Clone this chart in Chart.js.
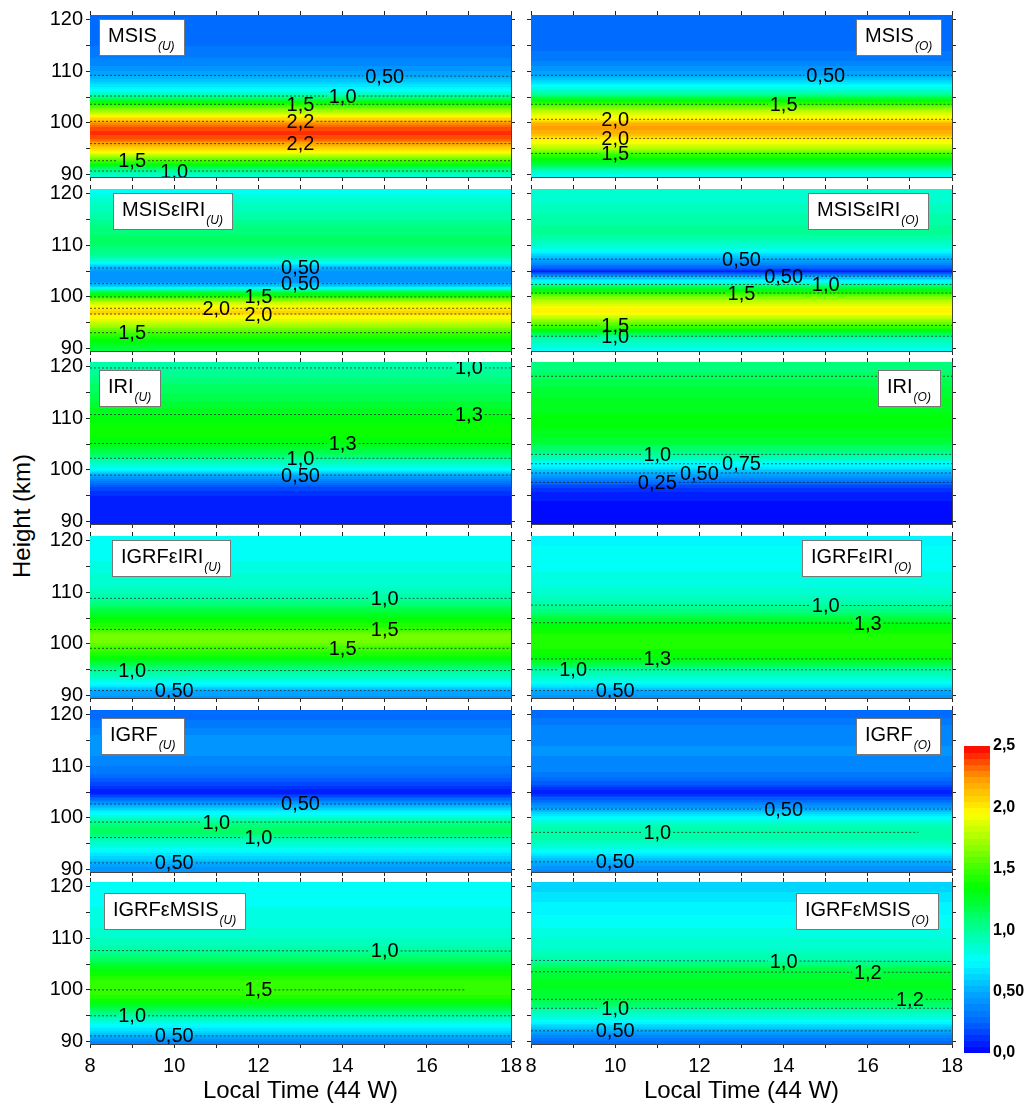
<!DOCTYPE html>
<html>
<head>
<meta charset="utf-8">
<title>Contour panels</title>
<script src="https://cdn.jsdelivr.net/npm/chart.js@4.4.1/dist/chart.umd.min.js"></script>
<style>
  html, body { margin: 0; padding: 0; background: #fff; }
  body { position: relative; width: 1028px; height: 1108px; overflow: hidden; font-family: "Liberation Sans", Arial, sans-serif; }
  .pane { position: absolute; }
  .pane canvas { display: block; }
  #ytitle { position: absolute; left: 22px; top: 516px; transform: translate(-50%, -50%) rotate(-90deg); font-size: 24px; white-space: nowrap; color: #000; }
</style>
</head>
<body>
<div id="ytitle">Height (km)</div>
<script>
// heights (km) at which the profiles are sampled
const heights = [89, 90, 91, 92, 93, 94, 95, 96, 97, 98, 99, 100, 101, 102, 103, 104, 105,
                 106, 107, 108, 109, 110, 111, 112, 113, 114, 115, 116, 117, 118, 119, 120, 121];

// values per panel, one per height
const profMsisU = [0.8, 0.9, 1.05, 1.32, 1.6, 1.85, 2.05, 2.2, 2.35, 2.42, 2.38, 2.25, 2.05, 1.8, 1.6, 1.35, 1.05,
                   0.85, 0.7, 0.6, 0.52, 0.45, 0.4, 0.37, 0.34, 0.32, 0.3, 0.28, 0.27, 0.28, 0.29, 0.3, 0.3];
const profMsisO = [0.72, 0.8, 0.95, 1.18, 1.35, 1.5, 1.72, 1.9, 2.0, 2.15, 2.22, 2.18, 1.95, 1.85, 1.65, 1.4, 1.15,
                   0.95, 0.8, 0.65, 0.52, 0.45, 0.4, 0.35, 0.32, 0.3, 0.3, 0.3, 0.3, 0.3, 0.3, 0.3, 0.3];
const profMsisIriU = [1.15, 1.2, 1.28, 1.38, 1.5, 1.65, 1.8, 1.92, 2.08, 1.98, 1.8, 1.5, 1.2, 0.65, 0.45, 0.4, 0.42,
                      0.6, 0.85, 1.0, 1.05, 1.1, 1.1, 1.1, 1.08, 1.05, 1.0, 0.97, 0.93, 0.9, 0.86, 0.8, 0.78];
const profMsisIriO = [0.75, 0.8, 0.88, 0.95, 1.2, 1.42, 1.6, 1.8, 1.95, 1.95, 1.82, 1.65, 1.42, 1.15, 0.8, 0.5, 0.08,
                      0.3, 0.45, 0.6, 0.75, 0.88, 0.95, 1.0, 1.0, 1.0, 0.98, 0.95, 0.92, 0.9, 0.87, 0.85, 0.85];
const profIriU = [0.05, 0.05, 0.05, 0.05, 0.06, 0.07, 0.1, 0.15, 0.22, 0.35, 0.5, 0.72, 0.88, 0.97, 1.1, 1.22, 1.29,
                  1.34, 1.37, 1.38, 1.36, 1.32, 1.29, 1.25, 1.21, 1.18, 1.15, 1.12, 1.09, 1.05, 1.02, 0.99, 0.97];
const profIriO = [0.03, 0.03, 0.03, 0.03, 0.04, 0.05, 0.07, 0.11, 0.18, 0.33, 0.46, 0.6, 0.73, 0.87, 1.0, 1.1, 1.18,
                  1.24, 1.28, 1.3, 1.31, 1.31, 1.3, 1.29, 1.27, 1.25, 1.22, 1.2, 1.17, 1.14, 1.1, 1.07, 1.05];
const profIgrfIriU = [0.4, 0.45, 0.5, 0.7, 0.85, 0.95, 1.02, 1.15, 1.3, 1.42, 1.49, 1.58, 1.65, 1.6, 1.48, 1.4, 1.32,
                      1.25, 1.15, 1.07, 0.98, 0.93, 0.9, 0.88, 0.86, 0.84, 0.82, 0.8, 0.79, 0.78, 0.77, 0.76, 0.75];
const profIgrfIriO = [0.38, 0.43, 0.5, 0.68, 0.82, 0.92, 1.0, 1.15, 1.28, 1.36, 1.4, 1.42, 1.42, 1.4, 1.36, 1.31, 1.2,
                      1.1, 1.03, 0.97, 0.92, 0.88, 0.85, 0.83, 0.81, 0.8, 0.79, 0.78, 0.77, 0.76, 0.75, 0.74, 0.73];
const profIgrfU = [0.38, 0.42, 0.48, 0.58, 0.68, 0.78, 0.87, 0.97, 1.1, 1.13, 1.03, 0.9, 0.75, 0.6, 0.42, 0.22, 0.06,
                   0.12, 0.2, 0.27, 0.32, 0.35, 0.38, 0.4, 0.41, 0.42, 0.42, 0.4, 0.37, 0.33, 0.3, 0.28, 0.27];
const profIgrfO = [0.36, 0.4, 0.46, 0.56, 0.68, 0.8, 0.9, 0.97, 1.0, 0.98, 0.9, 0.78, 0.62, 0.46, 0.34, 0.2, 0.06,
                   0.15, 0.24, 0.3, 0.35, 0.38, 0.39, 0.4, 0.4, 0.4, 0.39, 0.38, 0.37, 0.35, 0.31, 0.28, 0.27];
const profIgrfMsisU = [0.3, 0.38, 0.49, 0.62, 0.74, 0.87, 1.0, 1.13, 1.26, 1.37, 1.45, 1.5, 1.49, 1.45, 1.39, 1.31, 1.22,
                       1.13, 1.05, 0.98, 0.93, 0.9, 0.87, 0.85, 0.83, 0.82, 0.81, 0.8, 0.79, 0.78, 0.77, 0.76, 0.75];
const profIgrfMsisO = [0.22, 0.28, 0.36, 0.48, 0.62, 0.76, 0.87, 0.96, 1.07, 1.18, 1.23, 1.25, 1.26, 1.25, 1.22, 1.17, 1.07,
                       0.98, 0.93, 0.9, 0.88, 0.86, 0.83, 0.8, 0.78, 0.76, 0.74, 0.72, 0.7, 0.68, 0.65, 0.62, 0.6];

// contour lines: [label, height at 8 h, height at 18 h, label time, end time]
const contMsisU = [['0,50', 109.2, 109.0, 15], ['1,0', 105.2, 105.2, 14], ['1,5', 103.6, 103.6, 13],
                   ['2,2', 100.3, 100.3, 13], ['2,2', 96.0, 96.0, 13], ['1,5', 92.7, 92.7, 9], ['1,0', 90.7, 90.7, 10]];
const contMsisO = [['0,50', 109.2, 109.2, 15], ['1,5', 103.6, 103.6, 14], ['2,0', 100.7, 100.7, 10],
                   ['2,0', 97.0, 97.0, 10], ['1,5', 94.1, 94.1, 10]];
const contMsisIriU = [['0,50', 105.6, 105.6, 13], ['0,50', 102.55, 102.55, 13], ['1,5', 100.0, 100.0, 12],
                      ['2,0', 97.8, 97.8, 11], ['2,0', 96.7, 96.7, 12], ['1,5', 93.1, 93.1, 9]];
const contMsisIriO = [['0,50', 107.3, 107.3, 13], ['0,50', 104.0, 104.0, 14], ['1,0', 102.4, 102.4, 15],
                      ['1,5', 100.75, 100.75, 13], ['1,5', 94.5, 94.5, 10], ['1,0', 92.4, 92.4, 10]];
const contIriU = [['1,0', 119.7, 119.7, 17], ['1,3', 110.7, 110.7, 17], ['1,3', 105.1, 105.1, 14],
                  ['1,0', 102.25, 102.25, 13], ['0,50', 99.0, 99.0, 13]];
const contIriO = [['', 118.1, 118.1, null], ['1,0', 103.0, 103.0, 11], ['0,75', 101.2, 101.2, 13],
                  ['0,50', 99.4, 99.4, 12], ['0,25', 97.6, 97.6, 11]];
const contIgrfIriU = [['1,0', 108.8, 108.8, 15], ['1,5', 102.8, 102.8, 15], ['1,5', 99.15, 99.15, 14],
                      ['1,0', 94.85, 94.85, 9], ['0,50', 91.0, 91.0, 10]];
const contIgrfIriO = [['1,0', 107.5, 107.4, 15], ['1,3', 104.1, 104.0, 16], ['1,3', 97.1, 97.1, 11],
                      ['1,0', 95.0, 95.0, 9], ['0,50', 91.0, 91.0, 10]];
const contIgrfU = [['0,50', 102.7, 102.7, 13], ['1,0', 99.2, 99.2, 11], ['1,0', 96.2, 96.2, 12], ['0,50', 91.3, 91.3, 10]];
const contIgrfO = [['0,50', 101.7, 101.7, 14], ['1,0', 97.2, 97.2, 11, 17.2], ['0,50', 91.5, 91.5, 10]];
const contIgrfMsisU = [['1,0', 107.6, 107.5, 15], ['1,5', 100.0, 100.0, 12, 16.9], ['1,0', 95.0, 95.0, 9], ['0,50', 91.1, 91.1, 10]];
const contIgrfMsisO = [['1,0', 105.7, 105.5, 14], ['1,2', 103.5, 103.4, 16], ['1,2', 98.2, 98.2, 17],
                       ['1,0', 96.45, 96.45, 10], ['0,50', 92.1, 92.1, 10]];

const models = ['MSIS', 'MSISεIRI', 'IRI', 'IGRFεIRI', 'IGRF', 'IGRFεMSIS'];
const sides = ['(U)', '(O)'];
const xMajor = [8, 10, 12, 14, 16, 18];
const xMinor = [9, 11, 13, 15, 17];
const yMajor = [90, 100, 110, 120];
const yMinor = [95, 105, 115];
const cbTicks = [0, 0.5, 1, 1.5, 2, 2.5];
const cbLabels = ['0,0', '0,50', '1,0', '1,5', '2,0', '2,5'];

const profiles = [[profMsisU, profMsisO], [profMsisIriU, profMsisIriO], [profIriU, profIriO],
                  [profIgrfIriU, profIgrfIriO], [profIgrfU, profIgrfO], [profIgrfMsisU, profIgrfMsisO]];
const contours = [[contMsisU, contMsisO], [contMsisIriU, contMsisIriO], [contIriU, contIriO],
                  [contIgrfIriU, contIgrfIriO], [contIgrfU, contIgrfO], [contIgrfMsisU, contIgrfMsisO]];

// layout
const FONT = '"Liberation Sans", Arial, sans-serif';
const PLOT_W = 421, PLOT_H = 162;
const colLeft = [90, 531];
const rowTop = [15, 189, 362, 536, 710, 882];
const AX_L = 60, AX_R = 20, AX_T = 20, AX_B = 20, AX_B_LAST = 62;
const Y_MIN = 89.55, Y_MAX = 120.85;
const tagLeft = [9, 23, 9, 22, 11, 14];
const tagRight = [11, 24, 12, 31, 12, 14];
const tagTop = [4, 4, 8, 4, 8, 11];

// rainbow palette of the colour scale
const cmapStops = [0, 0.25, 0.5, 0.75, 1.0, 1.2, 1.35, 1.5, 1.75, 1.95, 2.25, 2.5];
const cmapRGB = [[0, 0, 255], [0, 100, 255], [0, 170, 255], [0, 255, 255], [0, 255, 160], [0, 255, 60],
                 [0, 255, 0], [60, 255, 0], [170, 255, 0], [255, 255, 0], [255, 150, 0], [255, 0, 0]];

Chart.defaults.font.family = FONT;
Chart.defaults.color = '#000';
Chart.defaults.animation = false;

function colourAt(v) {
  v = Math.max(0, Math.min(2.5, v));
  v = Math.min(2.5, (Math.floor(v / 0.05) + 0.5) * 0.05);
  let i = 0;
  while (i < cmapStops.length - 2 && v > cmapStops[i + 1]) i++;
  const f = (v - cmapStops[i]) / (cmapStops[i + 1] - cmapStops[i]);
  const c = cmapRGB[i].map((c0, k) => Math.round(c0 + (cmapRGB[i + 1][k] - c0) * f));
  return 'rgb(' + c[0] + ',' + c[1] + ',' + c[2] + ')';
}

function profileAt(prof, h) {
  if (h <= heights[0]) return prof[0];
  for (let i = 1; i < heights.length; i++) {
    if (h <= heights[i]) {
      const f = (h - heights[i - 1]) / (heights[i] - heights[i - 1]);
      return prof[i - 1] + (prof[i] - prof[i - 1]) * f;
    }
  }
  return prof[prof.length - 1];
}

const measureCtx = document.createElement('canvas').getContext('2d');
function textWidth(txt, font) {
  measureCtx.font = font;
  return measureCtx.measureText(txt).width;
}

function lineY(c, t) { return c[1] + (c[2] - c[1]) * (t - 8) / 10; }

function contourPoints(c, halfGap) {
  const end = c[4] != null ? c[4] : 18;
  const pts = [{ x: 8, y: c[1] }];
  if (c[0] && c[3] != null) {
    const a = c[3] - halfGap, b = c[3] + halfGap;
    if (a > 8) pts.push({ x: a, y: lineY(c, a) });
    pts.push({ x: c[3], y: null });
    if (b < end) pts.push({ x: b, y: lineY(c, b) });
  }
  pts.push({ x: end, y: lineY(c, end) });
  return pts;
}

const tickList = (major, minor) => major.concat(minor).sort((a, b) => a - b).map(v => ({ value: v }));

function axisBase(pos) {
  return {
    type: 'linear', position: pos, z: 1,
    grid: { display: true, drawOnChartArea: false, drawTicks: true, tickLength: 4, tickColor: '#222', color: '#222' },
    border: { display: true, color: '#444', width: 1 }
  };
}

function drawTag(ctx, a, row, col) {
  const name = models[row], sub = sides[col];
  const f1 = '20px ' + FONT, f2 = 'italic 12px ' + FONT;
  ctx.font = f1; const w1 = ctx.measureText(name).width;
  ctx.font = f2; const w2 = ctx.measureText(sub).width;
  const pad = 9, w = Math.round(w1 + w2 + 2 * pad + 1), h = 36;
  const bx = Math.round(col === 0 ? a.left + tagLeft[row] : a.right - tagRight[row] - w);
  const by = Math.round(a.top + tagTop[row]);
  ctx.fillStyle = '#fff';
  ctx.fillRect(bx, by, w, h);
  ctx.strokeStyle = '#777';
  ctx.lineWidth = 1;
  ctx.strokeRect(bx + 0.5, by + 0.5, w, h);
  ctx.fillStyle = '#000';
  ctx.textAlign = 'left';
  ctx.textBaseline = 'alphabetic';
  ctx.font = f1; ctx.fillText(name, bx + pad, by + 23);
  ctx.font = f2; ctx.fillText(sub, bx + pad + w1 + 1, by + 31);
}

function buildPanel(row, col) {
  const prof = profiles[row][col], cont = contours[row][col];
  const last = row === rowTop.length - 1;
  const axB = last ? AX_B_LAST : AX_B;
  const W = AX_L + PLOT_W + AX_R, H = AX_T + PLOT_H + axB;
  const wrap = document.createElement('div');
  wrap.className = 'pane';
  wrap.style.left = (colLeft[col] - AX_L) + 'px';
  wrap.style.top = (rowTop[row] - AX_T) + 'px';
  const cv = document.createElement('canvas');
  cv.width = W; cv.height = H;
  cv.style.width = W + 'px'; cv.style.height = H + 'px';
  wrap.appendChild(cv);
  document.body.appendChild(wrap);

  const labelFont = '20px ' + FONT;
  const hrsPerPx = 10 / PLOT_W;
  const datasets = cont.map(c => ({
    data: contourPoints(c, (textWidth(c[0], labelFont) / 2 + 2) * hrsPerPx),
    borderColor: 'rgba(20,20,20,0.85)', borderWidth: 0.8, borderDash: [2, 2],
    pointRadius: 0, fill: false, spanGaps: false, tension: 0
  }));

  const panelPlugin = {
    id: 'contourFill',
    beforeDatasetsDraw(chart) {
      const { ctx, chartArea: a, scales: { x, y } } = chart;
      ctx.save();
      ctx.beginPath();
      ctx.rect(a.left, a.top, a.right - a.left, a.bottom - a.top);
      ctx.clip();
      const step = 0.1;
      const x0 = x.getPixelForValue(x.min), x1 = x.getPixelForValue(x.max);
      for (let h = y.min; h < y.max; h += step) {
        ctx.fillStyle = colourAt(profileAt(prof, h + step / 2));
        const yt = Math.floor(y.getPixelForValue(h + step));
        const yb = Math.ceil(y.getPixelForValue(h));
        ctx.fillRect(x0, yt, x1 - x0, yb - yt);
      }
      ctx.restore();
    },
    afterDatasetsDraw(chart) {
      const { ctx, chartArea: a, scales: { x, y } } = chart;
      ctx.save();
      ctx.beginPath();
      ctx.rect(a.left, a.top, a.right - a.left, a.bottom - a.top);
      ctx.clip();
      ctx.font = labelFont;
      ctx.fillStyle = '#000';
      ctx.textAlign = 'center';
      ctx.textBaseline = 'middle';
      cont.forEach(c => {
        if (!c[0] || c[3] == null) return;
        ctx.fillText(c[0], x.getPixelForValue(c[3]), y.getPixelForValue(lineY(c, c[3])) + 1);
      });
      drawTag(ctx, a, row, col);
      ctx.restore();
    }
  };

  const chart = new Chart(cv, {
    type: 'line',
    data: { datasets: datasets },
    options: {
      responsive: false,
      animation: false,
      events: [],
      layout: { padding: 0 },
      plugins: { legend: { display: false }, tooltip: { enabled: false } },
      scales: {
        x: Object.assign(axisBase('bottom'), {
          min: 8, max: 18,
          afterBuildTicks: ax => { ax.ticks = tickList(xMajor, xMinor); },
          afterFit: ax => { ax.height = axB; },
          ticks: { display: last, autoSkip: false, maxRotation: 0, padding: 6, font: { size: 20 },
                   callback: v => xMajor.includes(v) ? String(v) : '' },
          title: { display: last, text: 'Local Time (44 W)', font: { size: 24 }, padding: 0, color: '#000' }
        }),
        x2: Object.assign(axisBase('top'), {
          min: 8, max: 18,
          afterBuildTicks: ax => { ax.ticks = tickList(xMajor, xMinor); },
          afterFit: ax => { ax.height = AX_T; },
          ticks: { display: false }
        }),
        y: Object.assign(axisBase('left'), {
          min: Y_MIN, max: Y_MAX,
          afterBuildTicks: ax => { ax.ticks = tickList(yMajor, yMinor); },
          afterFit: ax => { ax.width = AX_L; },
          ticks: { display: col === 0, autoSkip: false, padding: 3, font: { size: 20 },
                   callback: v => yMajor.includes(v) ? String(v) : '' }
        }),
        y2: Object.assign(axisBase('right'), {
          min: Y_MIN, max: Y_MAX,
          afterBuildTicks: ax => { ax.ticks = tickList(yMajor, yMinor); },
          afterFit: ax => { ax.width = AX_R; },
          ticks: { display: false }
        })
      }
    },
    plugins: [panelPlugin]
  });

  // keep the plot area on its place even if the layout shifted it
  const a = chart.chartArea;
  wrap.style.left = (colLeft[col] - a.left) + 'px';
  wrap.style.top = (rowTop[row] - a.top) + 'px';
}

function buildColorbar() {
  const top = 746, bottom = 1053, left = 964, barW = 26, padV = 20, axW = 44;
  const W = barW + axW, H = (bottom - top) + 2 * padV;
  const wrap = document.createElement('div');
  wrap.className = 'pane';
  wrap.style.left = left + 'px';
  wrap.style.top = (top - padV) + 'px';
  const cv = document.createElement('canvas');
  cv.width = W; cv.height = H;
  cv.style.width = W + 'px'; cv.style.height = H + 'px';
  wrap.appendChild(cv);
  document.body.appendChild(wrap);

  const chart = new Chart(cv, {
    type: 'line',
    data: { datasets: [] },
    options: {
      responsive: false,
      animation: false,
      events: [],
      layout: { padding: { top: padV, bottom: padV, left: 0, right: 0 } },
      plugins: { legend: { display: false }, tooltip: { enabled: false } },
      scales: {
        x: { type: 'linear', display: false, min: 0, max: 1 },
        y: {
          type: 'linear', position: 'right', min: 0, max: 2.5,
          afterBuildTicks: ax => { ax.ticks = cbTicks.map(v => ({ value: v })); },
          afterFit: ax => { ax.width = axW; },
          grid: { display: false, drawTicks: false },
          border: { display: false },
          ticks: { padding: 3, font: { size: 16, weight: 'bold' }, color: '#000',
                   callback: v => cbLabels[cbTicks.indexOf(v)] }
        }
      }
    },
    plugins: [{
      id: 'colourBar',
      beforeDatasetsDraw(chart) {
        const { ctx, chartArea: a, scales: { y } } = chart;
        const step = 0.05;
        for (let v = 0; v < 2.5 - 1e-9; v += step) {
          ctx.fillStyle = colourAt(v + step / 2);
          const yt = Math.floor(y.getPixelForValue(v + step));
          const yb = Math.ceil(y.getPixelForValue(v));
          ctx.fillRect(a.left, yt, a.right - a.left, yb - yt);
        }
      }
    }]
  });
  const a = chart.chartArea;
  wrap.style.left = (left - a.left) + 'px';
  wrap.style.top = (top - a.top) + 'px';
}

for (let r = 0; r < rowTop.length; r++) {
  for (let c = 0; c < 2; c++) buildPanel(r, c);
}
buildColorbar();
</script>
</body>
</html>
